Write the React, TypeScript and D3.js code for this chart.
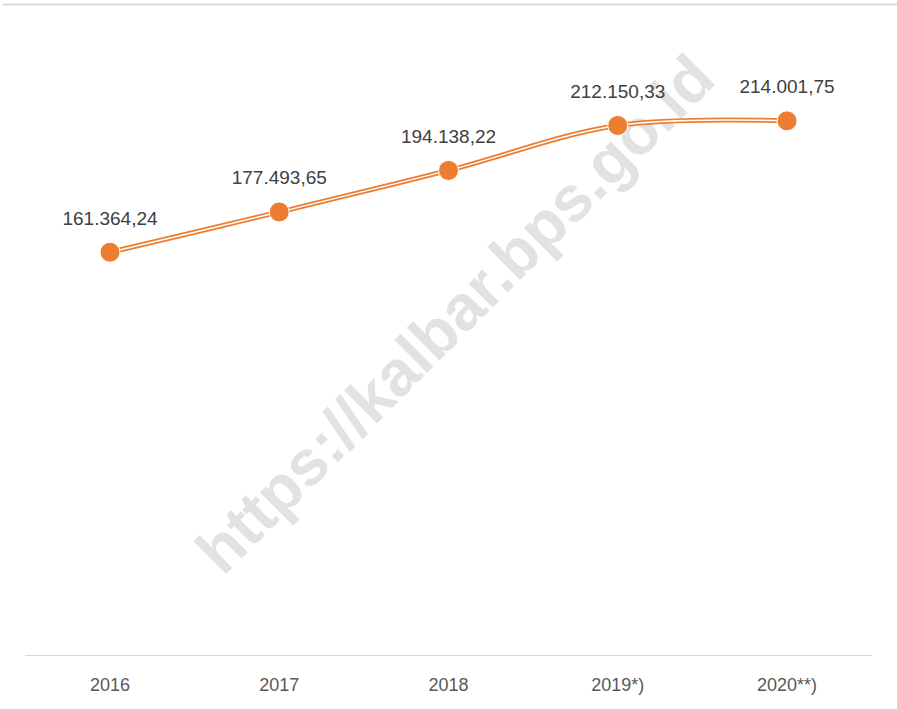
import React from "react";
import * as d3 from "d3";

const categories = ["2016", "2017", "2018", "2019*)", "2020**)"];
const values = [161364.24, 177493.65, 194138.22, 212150.33, 214001.75];
const valueLabels = ["161.364,24", "177.493,65", "194.138,22", "212.150,33", "214.001,75"];
const watermark = "https://kalbar.bps.go.id";

const W = 897;
const H = 709;

export default function App() {
  const x = d3.scalePoint<string>().domain(categories).range([110, 787]);
  const y = d3.scaleLinear().domain([0, 250000]).range([655, 31]);
  const pts: [number, number][] = values.map((v, i) => [x(categories[i])!, y(v)]);
  const line = d3.line().curve(d3.curveCardinal.tension(0))(pts) || "";
  const font = "'Liberation Sans', Arial, sans-serif";
  return (
    <svg width={W} height={H} style={{ position: "absolute", left: 0, top: 0, background: "#fff" }}>
      <line x1={3} x2={897} y1={4.5} y2={4.5} stroke="#d9d9d9" strokeWidth={2} />
      <line x1={25} x2={872} y1={655.5} y2={655.5} stroke="#d9d9d9" strokeWidth={1} />
      <text
        transform="translate(455,314) rotate(-45)"
        textAnchor="middle"
        dominantBaseline="central"
        fontFamily={font}
        fontWeight="bold"
        fontSize={64}
        fill="#e2e2e2"
      >
        {watermark}
      </text>
      <path d={line} fill="none" stroke="#ed7d31" strokeWidth={5} />
      <path d={line} fill="none" stroke="#fff" strokeWidth={1.4} />
      {pts.map((p, i) => (
        <circle key={i} cx={p[0]} cy={p[1]} r={10} fill="#ed7d31" stroke="#fff" strokeWidth={1} />
      ))}
      {pts.map((p, i) => (
        <text
          key={"l" + i}
          x={p[0]}
          y={p[1] - 34}
          textAnchor="middle"
          dominantBaseline="central"
          fontFamily={font}
          fontSize={19}
          fill="#404040"
        >
          {valueLabels[i]}
        </text>
      ))}
      {categories.map((c) => (
        <text
          key={c}
          x={x(c)}
          y={685}
          textAnchor="middle"
          dominantBaseline="central"
          fontFamily={font}
          fontSize={18}
          fill="#595959"
        >
          {c}
        </text>
      ))}
    </svg>
  );
}
